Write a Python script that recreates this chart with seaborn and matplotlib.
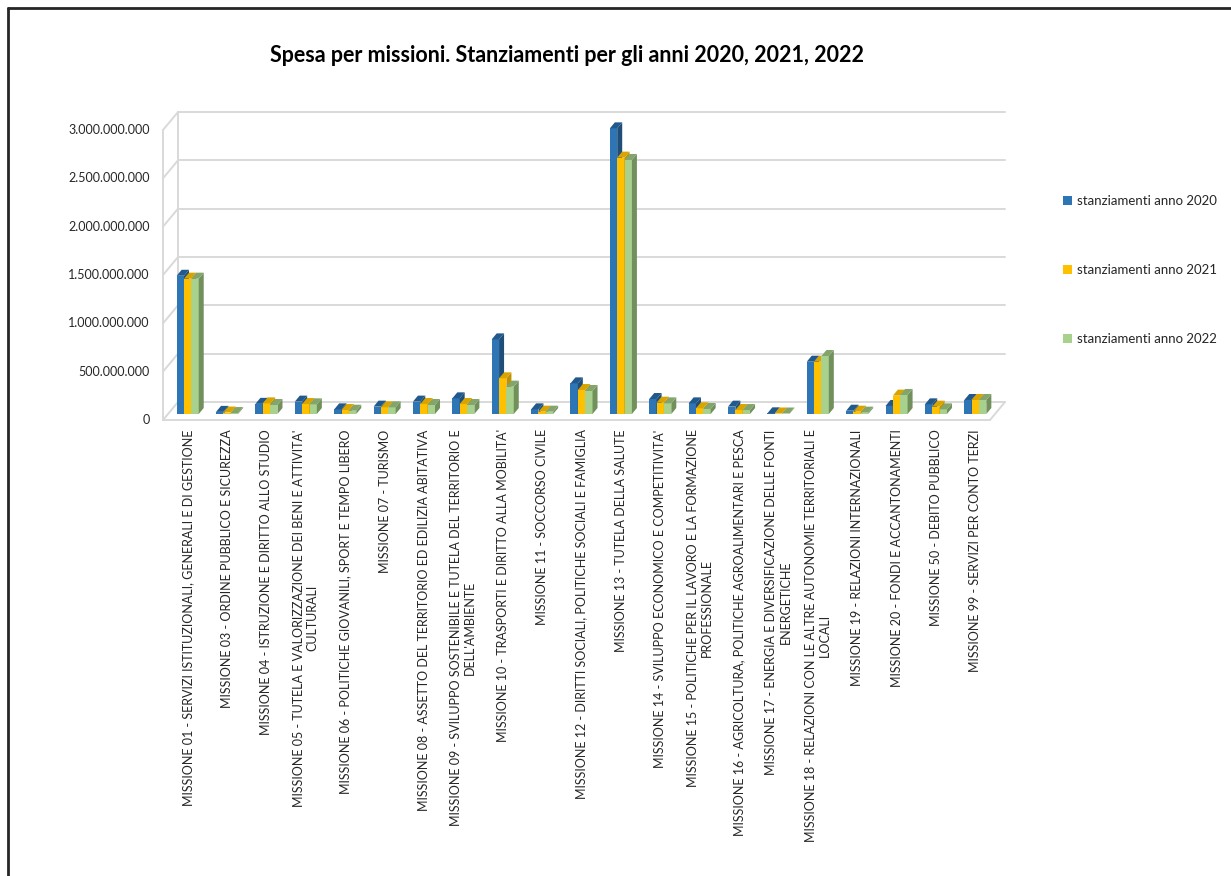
import matplotlib
matplotlib.use("Agg")
import matplotlib.pyplot as plt
import matplotlib.transforms as mtransforms
from matplotlib.lines import Line2D
from matplotlib.patches import Polygon
from matplotlib.ticker import FuncFormatter
import numpy as np
import pandas as pd
import seaborn as sns

# ---------------- data ----------------
categories = [
    "MISSIONE 01 - SERVIZI ISTITUZIONALI, GENERALI E DI GESTIONE",
    "MISSIONE 03 - ORDINE PUBBLICO E SICUREZZA",
    "MISSIONE 04 - ISTRUZIONE E DIRITTO ALLO STUDIO",
    "MISSIONE 05 - TUTELA E VALORIZZAZIONE DEI BENI E ATTIVITA'\nCULTURALI",
    "MISSIONE 06 - POLITICHE GIOVANILI, SPORT E TEMPO LIBERO",
    "MISSIONE 07 - TURISMO",
    "MISSIONE 08 - ASSETTO DEL TERRITORIO ED EDILIZIA ABITATIVA",
    "MISSIONE 09 - SVILUPPO SOSTENIBILE E TUTELA DEL TERRITORIO E\nDELL'AMBIENTE",
    "MISSIONE 10 - TRASPORTI E DIRITTO ALLA MOBILITA'",
    "MISSIONE 11 - SOCCORSO CIVILE",
    "MISSIONE 12 - DIRITTI SOCIALI, POLITICHE SOCIALI E FAMIGLIA",
    "MISSIONE 13 - TUTELA DELLA SALUTE",
    "MISSIONE 14 - SVILUPPO ECONOMICO E COMPETITIVITA'",
    "MISSIONE 15 - POLITICHE PER IL LAVORO E LA FORMAZIONE\nPROFESSIONALE",
    "MISSIONE 16 - AGRICOLTURA, POLITICHE AGROALIMENTARI E PESCA",
    "MISSIONE 17 - ENERGIA E DIVERSIFICAZIONE DELLE FONTI\nENERGETICHE",
    "MISSIONE 18 - RELAZIONI CON LE ALTRE AUTONOMIE TERRITORIALI E\nLOCALI",
    "MISSIONE 19 - RELAZIONI INTERNAZIONALI",
    "MISSIONE 20 - FONDI E ACCANTONAMENTI",
    "MISSIONE 50 - DEBITO PUBBLICO",
    "MISSIONE 99 - SERVIZI PER CONTO TERZI",
]
anno_2020 = [1430e6, 22e6, 105e6, 128e6, 48e6, 76e6, 128e6, 162e6, 772e6, 48e6,
             317e6, 2955e6, 155e6, 110e6, 76e6, 7e6, 541e6, 34e6, 83e6, 100e6, 145e6]
anno_2021 = [1400e6, 15e6, 110e6, 103e6, 41e6, 69e6, 103e6, 103e6, 369e6, 24e6,
             248e6, 2652e6, 117e6, 59e6, 41e6, 5e6, 541e6, 24e6, 190e6, 76e6, 145e6]
anno_2022 = [1400e6, 10e6, 93e6, 100e6, 34e6, 69e6, 93e6, 93e6, 283e6, 24e6,
             238e6, 2628e6, 110e6, 52e6, 41e6, 5e6, 600e6, 14e6, 197e6, 48e6, 145e6]
series_labels = ["stanziamenti anno 2020", "stanziamenti anno 2021", "stanziamenti anno 2022"]
y_ticks = [0, 500e6, 1000e6, 1500e6, 2000e6, 2500e6, 3000e6]
title = "Spesa per missioni. Stanziamenti per gli anni 2020, 2021, 2022"

front_colors = ["#2E75B6", "#FFC000", "#A9D18E"]
side_colors = ["#1F4E79", "#BF9000", "#71905C"]
top_colors = ["#22598C", "#D9A400", "#83A56C"]

# ---------------- style ----------------
sns.set_theme(style="white")
plt.rcParams["font.family"] = ["Lato", "DejaVu Sans"]

df = pd.DataFrame({
    "missione": categories * 3,
    "valore": anno_2020 + anno_2021 + anno_2022,
    "serie": [s for s in series_labels for _ in categories],
})

W, H = 1231, 876
fig = plt.figure(figsize=(W / 100, H / 100), dpi=100)
fig.patch.set_facecolor("white")
ax_left, ax_right, ax_top, ax_bot = 168, 995, 124, 414
ax = fig.add_axes([ax_left / W, 1 - ax_bot / H, (ax_right - ax_left) / W, (ax_bot - ax_top) / H])

sns.barplot(data=df, x="missione", y="valore", hue="serie", palette=front_colors,
            width=0.56, gap=0, saturation=1, errorbar=None, ax=ax, linewidth=0)
ax.set_xlim(-0.5, len(categories) - 0.5)
ax.set_ylim(0, 3000e6)

handles, labels = ax.get_legend_handles_labels()
if ax.get_legend() is not None:
    ax.get_legend().remove()

ident = mtransforms.IdentityTransform()
dx, dy = 5, 6
for i, cont in enumerate(ax.containers):
    for p in cont:
        p.set_zorder(3 + i)
        x0, y0, w, h = p.get_x(), p.get_y(), p.get_width(), p.get_height()
        (xl, yb), (xr, yt) = ax.transData.transform([(x0, y0), (x0 + w, y0 + h)])
        side = Polygon([(xr, yb), (xr + dx, yb + dy), (xr + dx, yt + dy), (xr, yt)],
                       closed=True, facecolor=side_colors[i], edgecolor="none",
                       transform=ident, clip_on=False, zorder=3 + i + 0.01)
        top = Polygon([(xl, yt), (xl + dx, yt + dy), (xr + dx, yt + dy), (xr, yt)],
                      closed=True, facecolor=top_colors[i], edgecolor="none",
                      transform=ident, clip_on=False, zorder=3 + i + 0.02)
        ax.add_patch(side)
        ax.add_patch(top)

# 3D-like walls & gridlines derived from the axes scale
grid_c = "#D9D9D9"
lw = 1.4
fx, fy = -5, -6   # front plane offset (pixels)
bx, by = 10, 12   # back plane offset (pixels)
(xL, _), (xR, _) = ax.transData.transform([(-0.5, 0), (len(categories) - 0.5, 0)])
ys = [ax.transData.transform((0, v))[1] for v in y_ticks]

def add_line(xs, ysl):
    ax.add_line(Line2D(xs, ysl, color=grid_c, lw=lw, transform=ident, clip_on=False, zorder=1))

for y in ys:
    add_line([xL + bx, xR + bx], [y + by, y + by])          # back wall gridline
    add_line([xL + fx, xL + bx], [y + fy, y + by])          # left wall diagonal
add_line([xL + fx, xL + fx], [ys[0] + fy, ys[-1] + fy])     # front left edge
add_line([xL + bx, xL + bx], [ys[0] + by, ys[-1] + by])     # back left edge
add_line([xL + fx, xR + fx], [ys[0] + fy, ys[0] + fy])      # floor front edge
add_line([xR + fx, xR + bx], [ys[0] + fy, ys[0] + by])      # floor right edge

# axes cosmetics
for s in ax.spines.values():
    s.set_visible(False)
ax.grid(False)
ax.set_xlabel("")
ax.set_ylabel("")
ax.set_yticks(y_ticks)
ax.yaxis.set_major_formatter(FuncFormatter(lambda v, _: f"{v:,.0f}".replace(",", ".")))
ax.tick_params(axis="y", length=0, pad=13, labelsize=9, labelcolor="#262626")
ax.set_xticks(range(len(categories)))
ax.set_xticklabels(categories, rotation=90, ha="center", va="top", multialignment="center")
ax.tick_params(axis="x", length=0, pad=11, labelsize=9, labelcolor="#262626")
shift = mtransforms.ScaledTranslation(0, -5 / 100, fig.dpi_scale_trans)
for lbl in ax.get_yticklabels():
    lbl.set_transform(lbl.get_transform() + shift)

# title
fig.text(567 / W, 1 - 55 / H, title, ha="center", va="center",
         fontsize=15.5, fontweight="bold", color="#000000")

# legend
fig.legend(handles, labels, loc="center left", bbox_to_anchor=(1051 / W, 1 - 270 / H),
           frameon=False, fontsize=9.5, labelspacing=4.3, handlelength=0.7,
           handleheight=0.7, handletextpad=0.4, labelcolor="#262626")

# outer frame (partly visible)
fig.add_artist(Line2D([8 / W, 8 / W], [0, 1 - 8 / H], color="#262626", lw=2, transform=fig.transFigure))
fig.add_artist(Line2D([8 / W, 1], [1 - 8 / H, 1 - 8 / H], color="#262626", lw=2, transform=fig.transFigure))

fig.savefig("out.png", dpi=100)
